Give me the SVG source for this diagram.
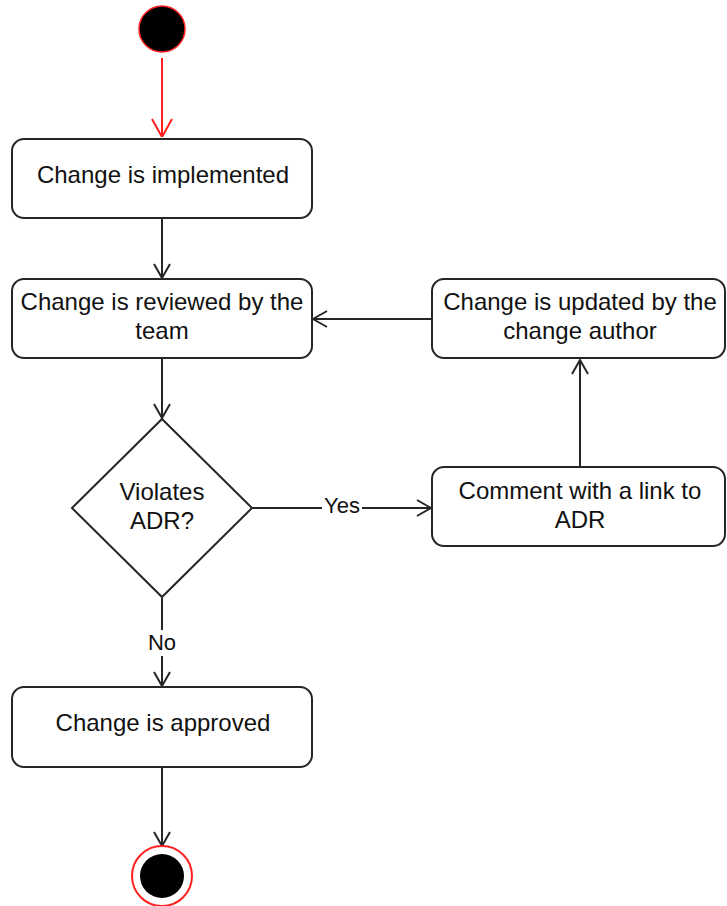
<svg xmlns="http://www.w3.org/2000/svg" width="727" height="906" viewBox="0 0 727 906">
<style>
  .box{fill:#fff;stroke:#262626;stroke-width:2}
  .t{font-family:"Liberation Sans",Arial,sans-serif;font-size:24px;fill:#111;text-anchor:middle}
  .lbl{font-family:"Liberation Sans",Arial,sans-serif;font-size:22px;fill:#111;text-anchor:middle}
  .edge{fill:none;stroke:#262626;stroke-width:2}
  .red{fill:none;stroke:#ff2020;stroke-width:2}
</style>
<defs>
  <marker id="arr" viewBox="0 0 16 18" refX="15" refY="9" markerWidth="16" markerHeight="18" markerUnits="userSpaceOnUse" orient="auto">
    <path d="M1,1 L15,9 L1,17" fill="none" stroke="#262626" stroke-width="2"/>
  </marker>
  <marker id="arrRed" viewBox="0 0 16 22" refX="19" refY="11" markerWidth="22" markerHeight="22" markerUnits="userSpaceOnUse" orient="auto">
    <path d="M1,1 L19,11 L1,21" fill="none" stroke="#ff2020" stroke-width="2"/>
  </marker>
</defs>
<rect width="727" height="906" fill="#fff"/>
<g id="connectors">
  <line class="red" x1="162" y1="58" x2="162" y2="137" marker-end="url(#arrRed)"/>
  <line class="edge" x1="162" y1="219" x2="162" y2="278" marker-end="url(#arr)"/>
  <line class="edge" x1="432" y1="319" x2="313" y2="319" marker-end="url(#arr)"/>
  <line class="edge" x1="162" y1="359" x2="162" y2="418" marker-end="url(#arr)"/>
  <line class="edge" x1="252" y1="508" x2="431" y2="508" marker-end="url(#arr)"/>
  <line class="edge" x1="580" y1="467" x2="580" y2="360" marker-end="url(#arr)"/>
  <line class="edge" x1="162" y1="598" x2="162" y2="686" marker-end="url(#arr)"/>
  <line class="edge" x1="162" y1="767" x2="162" y2="846" marker-end="url(#arr)"/>
  <rect x="322" y="494" width="40" height="26" fill="#fff"/>
  <text class="lbl" x="342" y="513">Yes</text>
  <rect x="148" y="630" width="28" height="26" fill="#fff"/>
  <text class="lbl" x="162" y="650">No</text>
</g>
<g id="start">
  <circle cx="162" cy="29" r="23" fill="#000" stroke="#ff2020" stroke-width="1.5"/>
</g>
<g id="implemented">
  <rect class="box" x="12" y="139" width="300" height="79" rx="12"/>
  <text class="t" x="163" y="183">Change is implemented</text>
</g>
<g id="reviewed">
  <rect class="box" x="12" y="279" width="300" height="79" rx="12"/>
  <text class="t" x="162" y="310">Change is reviewed by the</text>
  <text class="t" x="162" y="339">team</text>
</g>
<g id="updated">
  <rect class="box" x="432" y="279" width="293" height="79" rx="12"/>
  <text class="t" x="580" y="310">Change is updated by the</text>
  <text class="t" x="580" y="339">change author</text>
</g>
<g id="decision">
  <polygon class="box" points="162,419 252,508 162,597 72,508"/>
  <text class="t" x="162" y="500">Violates</text>
  <text class="t" x="162" y="529">ADR?</text>
</g>
<g id="comment">
  <rect class="box" x="432" y="467" width="293" height="79" rx="12"/>
  <text class="t" x="580" y="499">Comment with a link to</text>
  <text class="t" x="580" y="528">ADR</text>
</g>
<g id="approved">
  <rect class="box" x="12" y="687" width="300" height="80" rx="12"/>
  <text class="t" x="163" y="731">Change is approved</text>
</g>
<g id="end">
  <circle cx="162" cy="876" r="30" fill="#fff" stroke="#ff2020" stroke-width="2"/>
  <circle cx="162" cy="876" r="22" fill="#000"/>
</g>
</svg>
